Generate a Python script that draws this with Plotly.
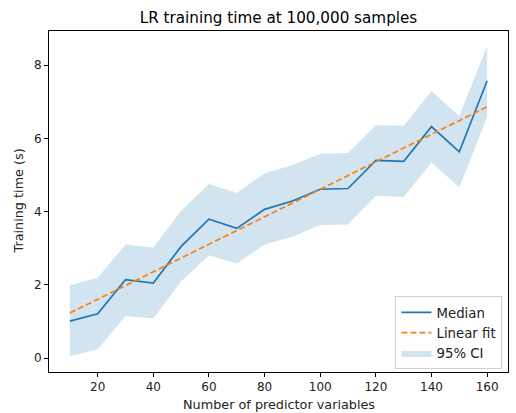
import plotly.graph_objects as go

n_vars = [10, 20, 30, 40, 50, 60, 70, 80, 90, 100, 110, 120, 130, 140, 150, 160]
median = [1.01, 1.21, 2.14, 2.05, 3.05, 3.79, 3.54, 4.06, 4.29, 4.61, 4.63, 5.40, 5.37, 6.32, 5.63, 7.57]
ci_low = [0.05, 0.24, 1.15, 1.08, 2.10, 2.81, 2.58, 3.10, 3.31, 3.63, 3.65, 4.43, 4.40, 5.34, 4.66, 6.58]
ci_high = [1.99, 2.19, 3.10, 3.02, 4.02, 4.75, 4.51, 5.04, 5.27, 5.58, 5.60, 6.36, 6.34, 7.29, 6.61, 8.52]
fit_x = [10, 160]
fit_y = [1.23, 6.86]

x_ticks = [20, 40, 60, 80, 100, 120, 140, 160]
y_ticks = [0, 2, 4, 6, 8]

FONT = "DejaVu Sans"
W, H = 516, 413
L, R, T, B = 49, 508, 31, 372

fig = go.Figure()

fig.add_trace(go.Scatter(x=n_vars, y=ci_high, mode="lines", line=dict(width=0),
                         showlegend=False, hoverinfo="skip"))
fig.add_trace(go.Scatter(x=n_vars, y=ci_low, mode="lines", line=dict(width=0),
                         fill="tonexty", fillcolor="rgba(31,119,180,0.2)",
                         name="95% CI", legendrank=3))
fig.add_trace(go.Scatter(x=n_vars, y=median, mode="lines",
                         line=dict(color="#1f77b4", width=1.7), name="Median", legendrank=1))
fig.add_trace(go.Scatter(x=fit_x, y=fit_y, mode="lines",
                         line=dict(color="#ff7f0e", width=1.7, dash="6px,3px"),
                         name="Linear fit", legendrank=2))

fig.update_layout(
    width=W, height=H,
    margin=dict(l=L, r=W - R, t=T, b=H - B, autoexpand=False),
    paper_bgcolor="white", plot_bgcolor="white",
    font=dict(family=FONT, size=11, color="#222"),
    title=dict(text="LR training time at 100,000 samples", font=dict(size=15.2, color="black"),
               x=(L + R) / 2 / W, xanchor="center",
               y=1 - 18 / H, yanchor="middle"),
    legend=dict(x=0.988, y=0.008, xanchor="right", yanchor="bottom", traceorder="normal",
                bordercolor="#d0d0d0", borderwidth=1, bgcolor="rgba(255,255,255,0.8)",
                font=dict(size=13.3, color="#222"), tracegroupgap=0),
    showlegend=True,
    annotations=[
        dict(text="Number of predictor variables", xref="paper", yref="paper",
             x=0.5, y=-(404 - B) / (B - T), xanchor="center", yanchor="middle",
             showarrow=False, font=dict(size=12.8, color="#222")),
        dict(text="Training time (s)", xref="paper", yref="paper",
             x=-(L - 18) / (R - L), y=0.5, xanchor="center", yanchor="middle",
             textangle=-90, showarrow=False, font=dict(size=12.8, color="#222")),
    ],
)
fig.update_xaxes(range=[2.5, 167.5], tickvals=x_ticks, ticks="outside", ticklen=4,
                 tickcolor="black", showline=True, mirror=True, linecolor="black",
                 linewidth=1, showgrid=False, zeroline=False, automargin=False,
                 tickfont=dict(size=12))
fig.update_yaxes(range=[-0.38, 8.93], tickvals=y_ticks, ticks="outside", ticklen=4,
                 tickcolor="black", showline=True, mirror=True, linecolor="black",
                 linewidth=1, showgrid=False, zeroline=False, automargin=False,
                 tickfont=dict(size=12))

fig.write_html("out.html", config={"displayModeBar": False},
               post_script="document.body.style.margin='0';document.body.style.overflow='hidden';")
